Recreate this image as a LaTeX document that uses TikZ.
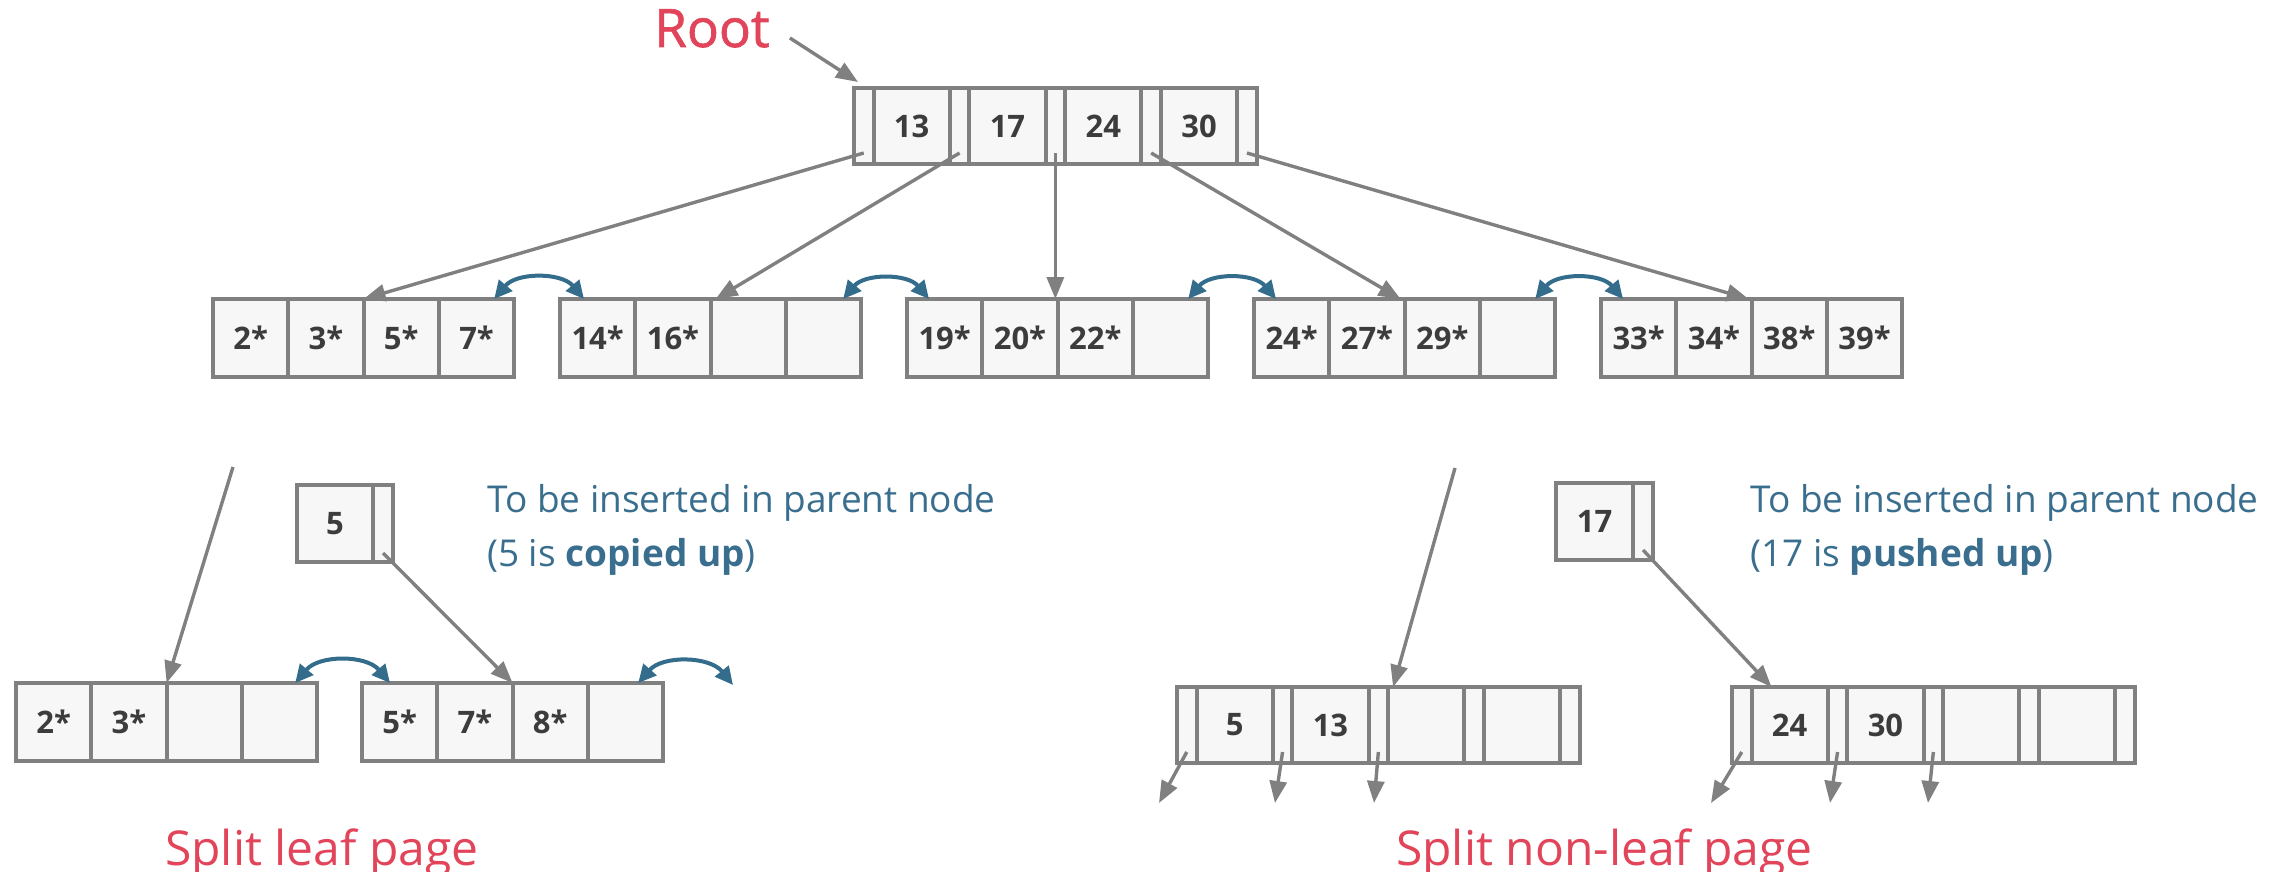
\documentclass[tikz,border=0pt]{standalone}
\usepackage{fontspec}
\setmainfont{Open Sans}
\usetikzlibrary{arrows.meta}
\definecolor{boxgray}{RGB}{128,128,128}
\definecolor{boxfill}{RGB}{247,247,247}
\definecolor{keygray}{RGB}{60,60,60}
\definecolor{linkblue}{RGB}{52,108,140}
\definecolor{txtblue}{RGB}{58,110,142}
\definecolor{titlered}{RGB}{226,68,90}
\tikzset{
  cell/.style={draw=boxgray, fill=boxfill, line width=4pt, minimum width=75.3pt,
    minimum height=78pt, inner sep=0pt, outer sep=0pt, anchor=north west,
    text=keygray, font=\bfseries\fontsize{31}{36}\selectfont},
  icell/.style={cell, minimum width=76.3pt, minimum height=76pt},
  pcell/.style={cell, minimum width=19.5pt, minimum height=76pt},
  ptr/.style={draw=boxgray, line width=3.4pt, -{Triangle[length=22pt,width=17pt]}},
  sib/.style={draw=linkblue, line width=4pt,
    {Triangle[length=18pt,width=17pt]}-{Triangle[length=18pt,width=17pt]}, bend left=50},
  note/.style={text=txtblue, font=\fontsize{37}{44}\selectfont, anchor=base west, inner sep=0pt},
  title/.style={text=titlered, font=\fontsize{48}{56}\selectfont, inner sep=0pt, anchor=base west},
}
\newcommand\mkleaf[7]{%
  \node[cell] (#1a) at (#2,#3) {#4};
  \node[cell] (#1b) at (#1a.north east) {#5};
  \node[cell] (#1c) at (#1b.north east) {#6};
  \node[cell] (#1d) at (#1c.north east) {#7};
}
\newcommand\mkinner[7]{%
  \node[pcell] (#1p0) at (#2,#3) {};
  \node[icell] (#1k1) at (#1p0.north east) {#4};
  \node[pcell] (#1p1) at (#1k1.north east) {};
  \node[icell] (#1k2) at (#1p1.north east) {#5};
  \node[pcell] (#1p2) at (#1k2.north east) {};
  \node[icell] (#1k3) at (#1p2.north east) {#6};
  \node[pcell] (#1p3) at (#1k3.north east) {};
  \node[icell] (#1k4) at (#1p3.north east) {#7};
  \node[pcell] (#1p4) at (#1k4.north east) {};
}
\begin{document}
\begin{tikzpicture}[x=1pt, y=-1pt]
\useasboundingbox (0,0) rectangle (2290,872);

% root
\node[title, font=\fontsize{53}{60}\selectfont\addfontfeature{FakeBold=1.2}] (root) at (654,47) {Root};
\mkinner{R}{854}{88}{13}{17}{24}{30}
\draw[ptr] ([shift={(20pt,9pt)}]root.base east) -- ([shift={(4pt,6pt)}]Rp0.north west);

% leaves
\mkleaf{L1}{213}{299}{2*}{3*}{5*}{7*}
\mkleaf{L2}{560}{299}{14*}{16*}{}{}
\mkleaf{L3}{907}{299}{19*}{20*}{22*}{}
\mkleaf{L4}{1254}{299}{24*}{27*}{29*}{}
\mkleaf{L5}{1601}{299}{33*}{34*}{38*}{39*}

\draw[ptr] ([yshift=11pt]Rp0.south) -- (L1c.north west);
\draw[ptr] ([yshift=11pt]Rp1.south) -- ([xshift=5pt]L2c.north west);
\draw[ptr] ([yshift=11pt]Rp2.south) -- (Rp2.south |- L3c.north);
\draw[ptr] ([yshift=11pt]Rp3.south) -- ([xshift=-4pt]L4c.north west);
\draw[ptr] ([yshift=11pt]Rp4.south) -- ([xshift=-3pt]L5c.north west);

\draw[sib] ([xshift=-20pt]L1d.north east) to ([xshift=24pt]L2a.north west);
\draw[sib] ([xshift=-18pt]L2d.north east) to ([xshift=22pt]L3a.north west);
\draw[sib] ([xshift=-20pt]L3d.north east) to ([xshift=22pt]L4a.north west);
\draw[sib] ([xshift=-20pt]L4d.north east) to ([xshift=22pt]L5a.north west);

% split leaf
\node[cell, minimum width=76pt, minimum height=77pt] (Fk) at (297,485) {5};
\node[cell, minimum width=20pt, minimum height=77pt] (Fp) at (Fk.north east) {};
\mkleaf{B1}{16}{683}{2*}{3*}{}{}
\mkleaf{B2}{362}{683}{5*}{7*}{8*}{}
\coordinate (cA) at (233,467);
\draw[ptr] (cA) -- (B1c.north west);
\draw[ptr] ([yshift=9pt]Fp.south) -- (B2c.north west);
\draw[sib] ([xshift=-22pt]B1d.north east) to ([xshift=28pt]B2a.north west);
\coordinate (cB) at (733,685);
\draw[sib] ([xshift=-25pt]B2d.north east) to (cB);
\node[note] (n1a) at (487,512) {To be inserted in parent node};
\node[note] (n1b) at (487,566) {(5 is \textbf{copied up})};
\node[title] (t1) at (165,865) {Split leaf page};

% split non-leaf
\node[cell, minimum width=77pt, minimum height=77pt] (Sk) at (1556,483) {17};
\node[cell, minimum width=20pt, minimum height=77pt] (Sp) at (Sk.north east) {};
\mkinner{NL}{1177}{687}{5}{13}{}{}
\mkinner{NR}{1732}{687}{24}{30}{}{}
\coordinate (cC) at (1455,468);
\draw[ptr] (cC) -- ([xshift=5pt]NLp2.north east);
\draw[ptr] ([yshift=10pt]Sp.south) -- ([xshift=20pt]NRk1.north west);
\coordinate (d1) at (1159,803);
\coordinate (d2) at (1275,803);
\coordinate (d3) at (1374,803);
\coordinate (d4) at (1711,803);
\coordinate (d5) at (1830,803);
\coordinate (d6) at (1928,803);
\draw[ptr] ([yshift=11pt]NLp0.south) -- (d1);
\draw[ptr] ([yshift=11pt]NLp1.south) -- (d2);
\draw[ptr] ([yshift=11pt]NLp2.south) -- (d3);
\draw[ptr] ([yshift=11pt]NRp0.south) -- (d4);
\draw[ptr] ([yshift=11pt]NRp1.south) -- (d5);
\draw[ptr] ([yshift=11pt]NRp2.south) -- (d6);
\node[note] (n2a) at (1750,512) {To be inserted in parent node};
\node[note] (n2b) at (1750,566) {(17 is \textbf{pushed up})};
\node[title] (t2) at (1396,865) {Split non-leaf page};
\end{tikzpicture}
\end{document}
